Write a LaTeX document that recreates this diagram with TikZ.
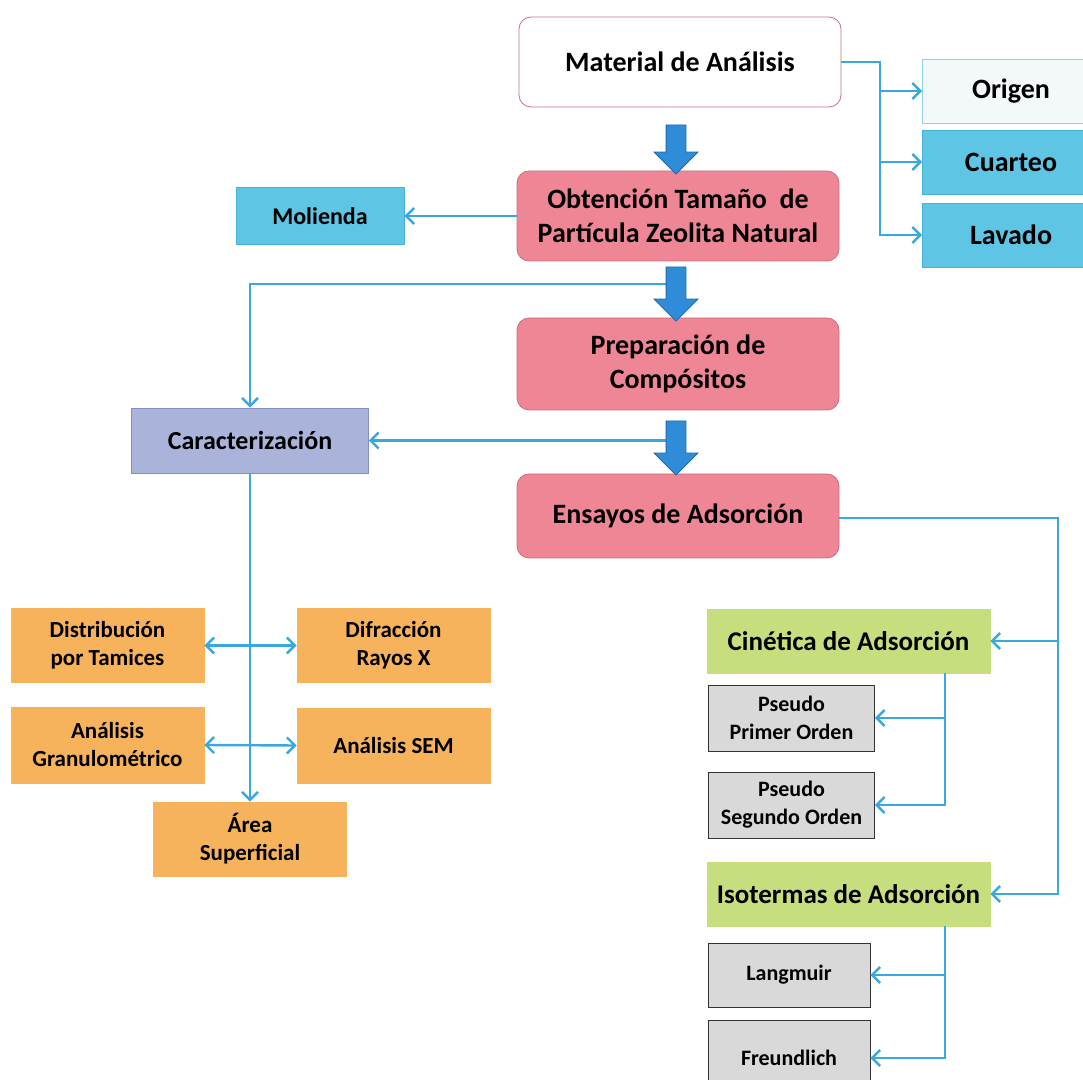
\documentclass[tikz,border=0pt]{standalone}
\usepackage{fontspec}
\setmainfont{Carlito}
\usepackage{xcolor}
\usepackage{tikz}
\usetikzlibrary{arrows.meta,positioning,calc,shapes.arrows}
\definecolor{flowline}{HTML}{3AA8E0}
\definecolor{flowblue}{HTML}{2E8CD8}
\definecolor{flowedge}{HTML}{1F6AAE}
\definecolor{rosefill}{HTML}{EF8696}
\definecolor{roseedge}{HTML}{C9707F}
\definecolor{cyanfill}{HTML}{5EC6E4}
\definecolor{cyanedge}{HTML}{48B2D6}
\definecolor{palefill}{HTML}{F3F8FB}
\definecolor{lilacfill}{HTML}{AAB4DA}
\definecolor{lilacedge}{HTML}{7F8FC6}
\definecolor{orangefill}{HTML}{F6B35C}
\definecolor{greenfill}{HTML}{C7DE7E}
\definecolor{grayfill}{HTML}{D9D9D9}

\begin{document}
\begin{tikzpicture}[x=0.5pt,y=-0.5pt,
  box/.style={draw,align=center,inner sep=0pt,font=\bfseries\fontsize{14}{17}\selectfont},
  stage/.style={box,draw=roseedge,fill=rosefill,rounded corners=6pt,minimum width=161pt,minimum height=45pt},
  source/.style={box,fill=cyanfill,draw=cyanedge,minimum width=88pt,minimum height=32pt},
  charbox/.style={box,fill=orangefill,draw=orangefill,minimum width=96.5pt,minimum height=37pt,font=\bfseries\fontsize{11.5}{14}\selectfont},
  adsbox/.style={box,fill=greenfill,draw=greenfill,minimum width=141.5pt,minimum height=32pt,font=\bfseries\fontsize{13.5}{16}\selectfont},
  model/.style={box,fill=grayfill,draw=black!80,minimum width=83pt,minimum height=33pt,font=\bfseries\fontsize{11}{14}\selectfont},
  arrow/.style={-{Straight Barb[length=4pt,width=8pt]},line width=1.2pt,draw=flowline},
  both/.style={{Straight Barb[length=4pt,width=8pt]}-{Straight Barb[length=4pt,width=8pt]},line width=1.2pt,draw=flowline},
  bigarrow/.style={single arrow,draw=flowedge,fill=flowblue,inner sep=4.75pt,single arrow head extend=6pt,rotate=-90}
]
\useasboundingbox (0,0) rectangle (1083,1080);
\clip (0,0) rectangle (1083,1080);

\node[stage,fill=white] (material) at (680,62) {Material de Análisis};
\node[source,fill=palefill,draw=cyanedge!60,minimum width=88.5pt] (origen) at (1011,91) {Origen};
\node[source,minimum width=88.5pt] (cuarteo) at (1011,162) {Cuarteo};
\node[source,minimum width=88.5pt] (lavado) at (1011,235) {Lavado};
\node[stage] (obtencion) at (678,216) {Obtención Tamaño\ \ de\\Partícula Zeolita Natural};
\node[source,minimum width=84pt,minimum height=28.5pt,font=\bfseries\fontsize{12}{14}\selectfont] (molienda) at (320,216) {Molienda};
\node[stage,minimum height=46pt] (preparacion) at (678,364) {Preparación de\\Compósitos};
\node[box,fill=lilacfill,draw=lilacedge,minimum width=118.5pt,minimum height=32.5pt,font=\bfseries\fontsize{13}{15}\selectfont] (caract) at (250,440.5) {Caracterización};
\node[stage,minimum height=42pt] (ensayos) at (678,516) {Ensayos de Adsorción};

\node[charbox] (tamices) at (107.5,645.5) {Distribución\\por Tamices};
\node[charbox] (rayosx) at (393.5,645.5) {Difracción\\Rayos X};
\node[charbox,minimum height=38pt] (granulo) at (107.5,745) {Análisis\\Granulométrico};
\node[charbox,minimum height=37.5pt] (sem) at (393.5,745.5) {Análisis SEM};
\node[charbox] (area) at (250,839) {Área\\Superficial};

\node[adsbox] (cinetica) at (848.5,641) {Cinética de Adsorción};
\node[model] (primer) at (791.5,718) {Pseudo\\Primer Orden};
\node[model] (segundo) at (791.5,805) {Pseudo\\Segundo Orden};
\node[adsbox] (isotermas) at (848.5,894) {Isotermas de Adsorción};
\node[model,minimum width=81pt,minimum height=32pt] (langmuir) at (789,975) {Langmuir};
\node[model,minimum width=81pt,minimum height=38pt] (freundlich) at (789,1058) {Freundlich};

\coordinate (split) at (880,62);
\coordinate (tapA) at (676,284);
\coordinate (tapB) at (676,440.5);
\coordinate (right) at (1058,518);
\coordinate (kin) at (945,673);
\coordinate (iso) at (945,926);

\draw[arrow] (material.east) -- (split) |- (lavado.west);
\draw[arrow] (split |- origen.west) -- (origen.west);
\draw[arrow] (split |- cuarteo.west) -- (cuarteo.west);
\draw[arrow] (obtencion.west) -- (molienda.east);
\draw[arrow] (tapA) -| (caract.north);
\draw[arrow] (tapB) -- (caract.east);
\draw[arrow] (caract.south) -- (area.north);
\draw[both] (tamices.east) -- (rayosx.west);
\draw[both] (granulo.east) -- (sem.west);
\draw[arrow] (ensayos.east |- right) -- (right) |- (isotermas.east);
\draw[arrow] (right |- cinetica.east) -- (cinetica.east);
\draw[arrow] (kin) |- (segundo.east);
\draw[arrow] (kin |- primer.east) -- (primer.east);
\draw[arrow] (iso) |- (freundlich.east);
\draw[arrow] (iso |- langmuir.east) -- (langmuir.east);

\node[bigarrow,minimum height=24.5pt,minimum width=21.5pt] (drop1) at (676,144.5) {};
\node[bigarrow,minimum height=27pt,minimum width=21.5pt] (drop2) at (676,289) {};
\node[bigarrow,minimum height=27pt,minimum width=21.5pt] (drop3) at (676,443) {};
\end{tikzpicture}
\end{document}
